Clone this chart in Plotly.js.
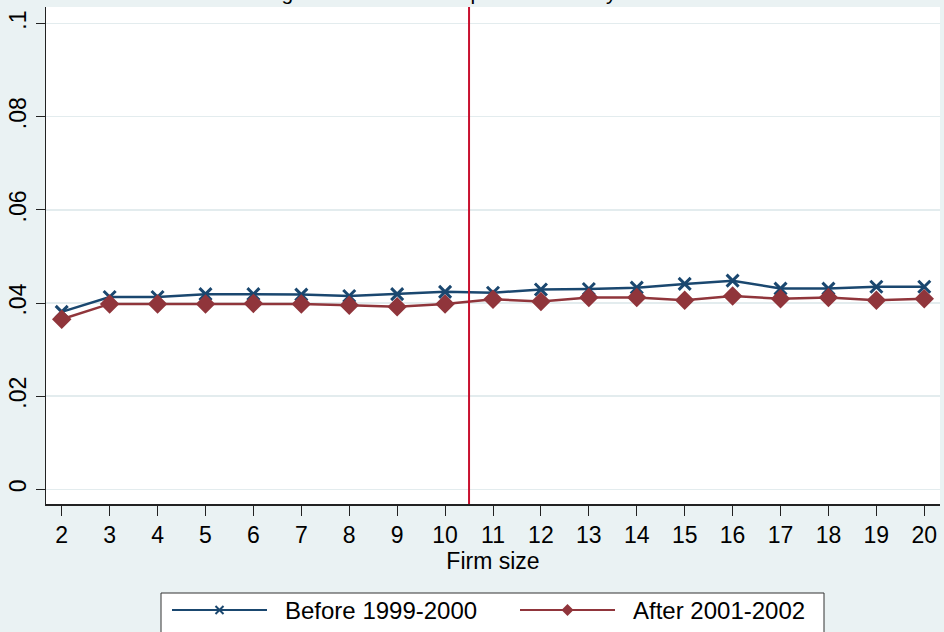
<!DOCTYPE html>
<html>
<head>
<meta charset="utf-8">
<script src="https://cdn.plot.ly/plotly-3.0.1.min.js"></script>
<style>html,body{margin:0;padding:0;background:#EAF2F3;}#chart{width:944px;height:632px;}</style>
</head>
<body>
<div id="chart"></div>
<script>
// ---- data ----
var firmSize = [2,3,4,5,6,7,8,9,10,11,12,13,14,15,16,17,18,19,20];
var before = [0.0381,0.0413,0.0413,0.0419,0.0419,0.0418,0.0415,0.0419,0.0424,0.0422,0.0429,0.0430,0.0433,0.0441,0.0448,0.0431,0.0431,0.0435,0.0435];
var after  = [0.0365,0.0398,0.0398,0.0398,0.0399,0.0398,0.0395,0.0392,0.0398,0.0408,0.0403,0.0412,0.0412,0.0406,0.0415,0.0409,0.0412,0.0406,0.0409];
var seriesNames = ["Before 1999-2000","After 2001-2002"];
var yTickVals = [0,0.02,0.04,0.06,0.08,0.1];
var yTickText = ["0",".02",".04",".06",".08",".1"];
var cutoff = 10.5;
var titleText = "Average annual worker separation rate by firm size";

// ---- geometry helpers (pixel -> paper) ----
var W=944,H=632,L=46,R=4,T=7,B=128;
var pw=W-L-R, ph=H-T-B;
function px(x){return (x-L)/pw;}
function py(y){return (H-B-y)/ph;}

var navy="#1A476F", maroon="#90353B", crim="#C8102E";
var FONT="Liberation Sans, Arial, sans-serif";
var FS=23;

var traces=[
 {x:firmSize,y:before,mode:"lines+markers",name:seriesNames[0],
  line:{color:navy,width:2.5},marker:{symbol:"x-thin",size:12,line:{color:navy,width:3}},showlegend:false},
 {x:firmSize,y:after,mode:"lines+markers",name:seriesNames[1],
  line:{color:maroon,width:2.5},marker:{symbol:"diamond",size:15,color:maroon},showlegend:false}
];

// custom legend
var ly=610;
var shapes=[
 {type:"line",xref:"x",yref:"paper",x0:cutoff,x1:cutoff,y0:0,y1:1,line:{color:crim,width:2},layer:"above"},
 {type:"rect",xref:"paper",yref:"paper",x0:px(161),x1:px(824),y0:py(593),y1:py(650),fillcolor:"#FFFFFF",line:{color:"#333333",width:1}},
 {type:"line",xref:"paper",yref:"paper",x0:px(172),x1:px(267),y0:py(ly),y1:py(ly),line:{color:navy,width:2}},
 {type:"line",xref:"paper",yref:"paper",x0:px(215.5),x1:px(223.5),y0:py(ly-4),y1:py(ly+4),line:{color:navy,width:2}},
 {type:"line",xref:"paper",yref:"paper",x0:px(215.5),x1:px(223.5),y0:py(ly+4),y1:py(ly-4),line:{color:navy,width:2}},
 {type:"line",xref:"paper",yref:"paper",x0:px(520),x1:px(615),y0:py(ly),y1:py(ly),line:{color:maroon,width:2}},
 {type:"path",xref:"paper",yref:"paper",
  path:"M "+px(567.5)+" "+py(ly-6)+" L "+px(573.5)+" "+py(ly)+" L "+px(567.5)+" "+py(ly+6)+" L "+px(561.5)+" "+py(ly)+" Z",
  fillcolor:maroon,line:{color:maroon,width:0}}
];
var annotations=[
 {xref:"paper",yref:"paper",x:px(283),y:py(ly),xanchor:"left",yanchor:"middle",text:seriesNames[0],showarrow:false,font:{family:FONT,size:24,color:"#000"}},
 {xref:"paper",yref:"paper",x:px(631),y:py(ly),xanchor:"left",yanchor:"middle",text:seriesNames[1],showarrow:false,font:{family:FONT,size:24,color:"#000"}},
 {xref:"paper",yref:"paper",x:px(464),y:py(6.5),xanchor:"center",yanchor:"bottom",text:titleText,showarrow:false,font:{family:FONT,size:21,color:"#000"}}
];

var layout={
 width:W,height:H,
 margin:{l:L,r:R,t:T,b:B,pad:0},
 paper_bgcolor:"#EAF2F3",plot_bgcolor:"#FFFFFF",
 font:{family:FONT,size:FS,color:"#000"},
 xaxis:{range:[1.672,20.328],tickmode:"array",tickvals:firmSize,ticktext:firmSize.map(String),
  ticks:"outside",ticklen:10,tickwidth:1,tickcolor:"#222",showgrid:false,zeroline:false,
  showline:true,linecolor:"#222",linewidth:1.5,
  title:{text:"Firm size",font:{family:FONT,size:FS},standoff:0},tickfont:{family:FONT,size:FS}},
 yaxis:{range:[-0.00316,0.10356],tickmode:"array",tickvals:yTickVals,ticktext:yTickText,tickangle:-90,
  ticks:"outside",ticklen:9,tickwidth:1,tickcolor:"#222",showgrid:true,gridcolor:"#E3ECEE",gridwidth:1.5,zeroline:false,
  showline:true,linecolor:"#222",linewidth:1.5,tickfont:{family:FONT,size:FS}},
 shapes:shapes,annotations:annotations,showlegend:false
};
Plotly.newPlot("chart",traces,layout,{displayModeBar:false,staticPlot:true});
</script>
</body>
</html>
